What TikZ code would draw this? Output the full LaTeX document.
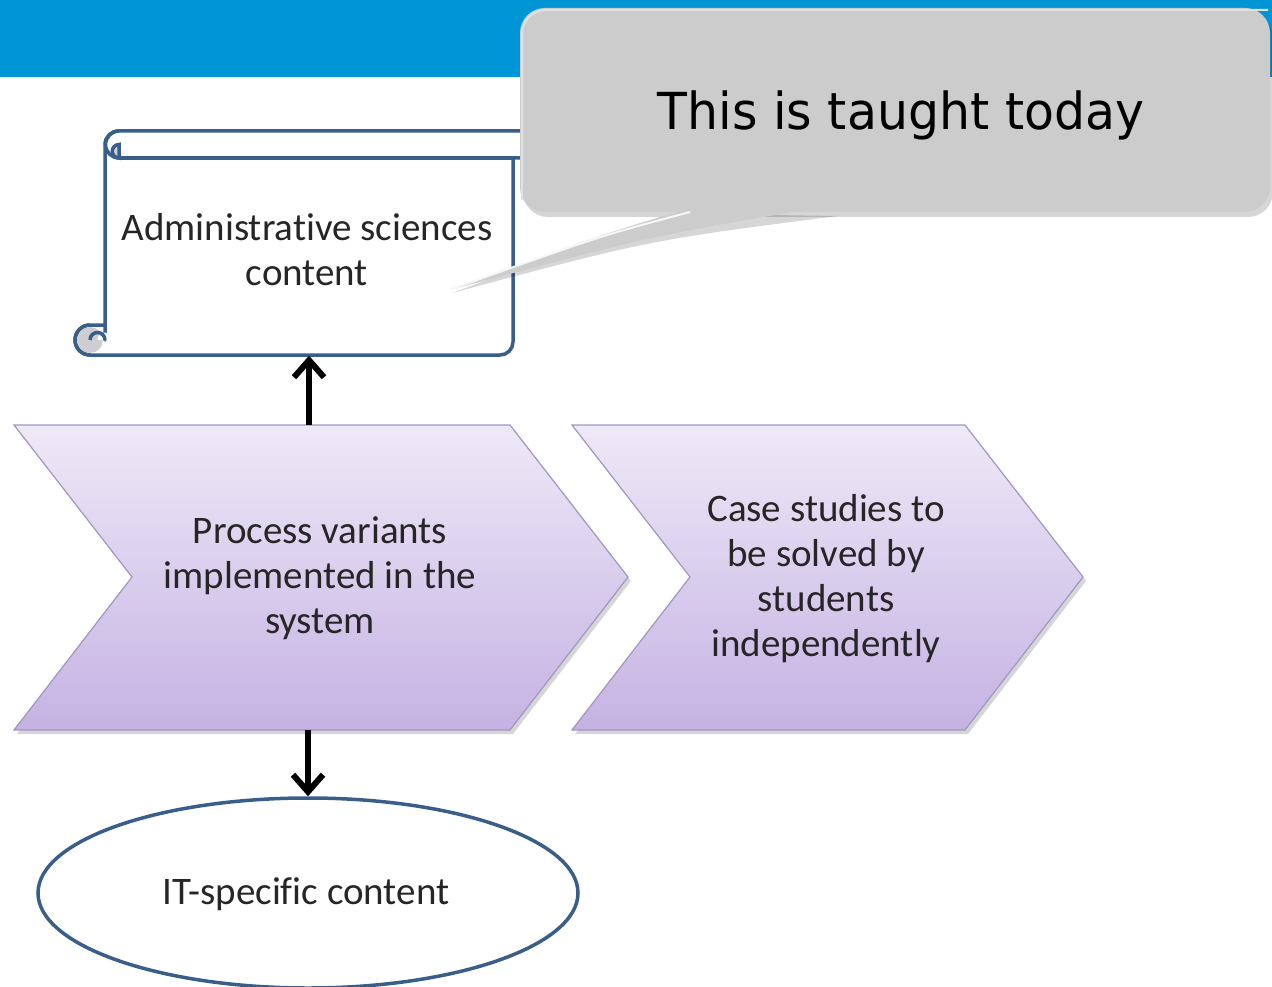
\documentclass[tikz,border=0pt]{standalone}
\usepackage{fontspec}
\setmainfont{Carlito}[Ligatures=NoCommon]
\newfontfamily\calloutfont[FakeStretch=0.96]{DejaVu Sans}
\usetikzlibrary{arrows.meta,shapes.geometric,calc}
\definecolor{barblue}{RGB}{0,150,214}
\definecolor{scrollblue}{RGB}{58,94,138}
\definecolor{chevtop}{RGB}{238,233,247}
\definecolor{chevbot}{RGB}{197,178,227}
\definecolor{chevline}{RGB}{160,150,192}
\definecolor{calloutgray}{RGB}{204,204,204}
\definecolor{curlgray}{RGB}{205,205,210}
\tikzset{
  outline/.style={draw=scrollblue, line width=3.5pt},
  chevron/.style={top color=chevtop, bottom color=chevbot, draw=chevline, line width=1.2pt},
  shadowfill/.style={fill=black, opacity=0.16},
  txt/.style={font=\fontsize{39}{45}\selectfont, align=center, text=black!85},
  conn/.style={line width=6pt, -{Straight Barb[length=17pt,width=30pt,line width=6pt]}},
}
\begin{document}
\begin{tikzpicture}[x=1pt,y=-1pt]
\useasboundingbox (0,0) rectangle (1272,987);
% top bar
\fill[barblue] (0,0) rectangle (1272,77);

% scroll (angles measured with y downward: 90 = down, 270 = up)
\node[minimum width=408, minimum height=197, inner sep=0] (scroll) at (309,257) {};
\path[fill=white, outline, line join=round] (105,340) -- (105,144.5)
  arc[start angle=180, end angle=270, radius=13.5]
  -- (540,131) -- (540,158) -- (513,158) -- (513,342)
  arc[start angle=0, end angle=90, radius=13] -- (90,355)
  arc[start angle=90, end angle=270, radius=15] -- (105,325) -- cycle;
\draw[outline] (119,158) -- (513,158);
\draw[outline] (119,158) arc[start angle=90, end angle=270, radius=13.5];
% top-left curl
\path[fill=curlgray, outline] (119,144.5) arc[start angle=270, end angle=90, radius=6.75] -- cycle;
% bottom-left curl
\fill[curlgray] (90,340) circle[radius=13];
\fill[white] (97.5,340) arc[start angle=180, end angle=360, radius=7.5] -- cycle;
\draw[outline] (90,340) arc[start angle=180, end angle=360, radius=7.5] -- (105,340);
\draw[outline] (90,355) arc[start angle=90, end angle=270, radius=15];
\node[txt] at (307,250) {Administrative sciences\\content};

% chevron shadows
\fill[shadowfill] (17,429) -- (513,429) -- (631,581) -- (513,734) -- (17,734) -- (135,581) -- cycle;
\fill[shadowfill] (575,429) -- (968,429) -- (1086,581) -- (968,734) -- (575,734) -- (693,581) -- cycle;
% chevrons
\path[chevron] (14,425) -- (510,425) -- (628,577) -- (510,730) -- (14,730) -- (132,577) -- cycle;
\path[chevron] (572,425) -- (965,425) -- (1083,577) -- (965,730) -- (572,730) -- (690,577) -- cycle;
\node[minimum width=614, minimum height=305, inner sep=0] (p1) at (321,577.5) {};
\node[minimum width=511, minimum height=305, inner sep=0] (p2) at (827.5,577.5) {};
\node[txt] at (320,578) {Process variants\\implemented in the\\system};
\node[txt] at (826,579) {Case studies to\\be solved by\\students\\independently};

% ellipse
\node[ellipse, outline, fill=white, minimum width=540, minimum height=190, inner sep=0] (it) at (308,893) {};
\node[txt] at (306,894) {IT-specific content};

% connectors
\draw[conn] (p1.north -| scroll.south) -- (scroll.south);
\draw[conn] (p1.south -| it.north) -- (it.north);

% callout
\begin{scope}[shift={(3,5)}]
\fill[shadowfill, rounded corners=25] (520,8) rectangle (1270,212);
\end{scope}
\fill[shadowfill] (703,214) .. controls (600,238) .. (452,293) .. controls (650,240) .. (838,216) -- cycle;
\fill[calloutgray, rounded corners=25] (520,8) rectangle (1270,212);
\draw[white!40!calloutgray, line width=2pt, rounded corners=24] (522,200) -- (522,10) -- (1268,10);
\fill[calloutgray] (700,205) .. controls (600,235) .. (450,290) .. controls (650,236) .. (835,205) -- cycle;
\draw[white!85!calloutgray, line width=2pt] (690,212) .. controls (600,236) .. (452,289);
\node[inner sep=0, anchor=base, font=\calloutfont\fontsize{51}{60}\selectfont] (callout) at (901,130) {This is taught today};
\end{tikzpicture}
\end{document}
